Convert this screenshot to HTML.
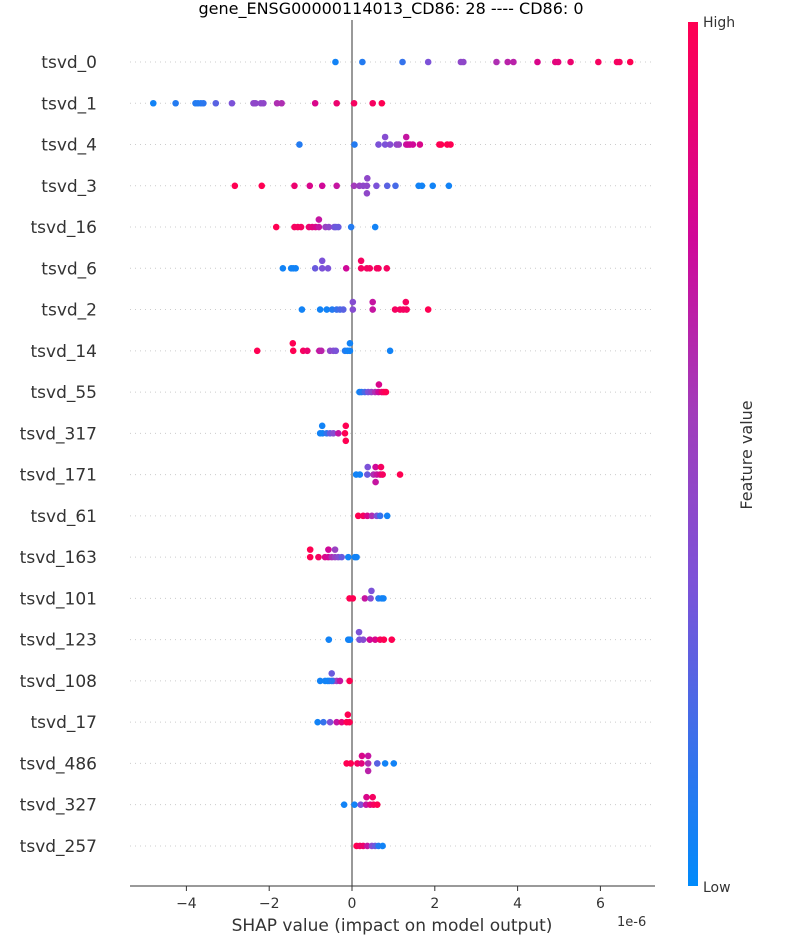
<!DOCTYPE html>
<html><head><meta charset="utf-8"><style>
body{margin:0;background:#fff;}
svg{display:block;font-family:"DejaVu Sans","Liberation Sans",sans-serif;}
</style></head><body>
<svg id="chart" width="800" height="950">
<defs><linearGradient id="cb" x1="0" y1="1" x2="0" y2="0">
<stop offset="0" stop-color="#008bfb"/><stop offset="0.35" stop-color="#7c52d8"/><stop offset="0.55" stop-color="#a23cba"/><stop offset="0.75" stop-color="#d00898"/><stop offset="1" stop-color="#ff0052"/></linearGradient></defs>
<text x="391" y="14" text-anchor="middle" font-size="16" fill="#000">gene_ENSG00000114013_CD86: 28 ---- CD86: 0</text>
<g id="grid"></g><g id="pts"></g><g id="axes"></g>
<rect x="688" y="22" width="10" height="864" fill="url(#cb)"/>
<text x="703" y="27" font-size="14" fill="#333">High</text>
<text x="703" y="892" font-size="14" fill="#333">Low</text>
<text transform="translate(752,455) rotate(-90)" text-anchor="middle" font-size="16" fill="#333">Feature value</text>
<text x="392" y="931" text-anchor="middle" font-size="17" fill="#333">SHAP value (impact on model output)</text>
<text x="617" y="926" font-size="13" fill="#333">1e-6</text>
</svg>
<script>
const features=["tsvd_0","tsvd_1","tsvd_4","tsvd_3","tsvd_16","tsvd_6","tsvd_2","tsvd_14","tsvd_55","tsvd_317","tsvd_171","tsvd_61","tsvd_163","tsvd_101","tsvd_123","tsvd_108","tsvd_17","tsvd_486","tsvd_327","tsvd_257"];
const xTicks=[-4,-2,0,2,4,6];
const shapValues=[
[-0.40,0.25,1.22,1.84,2.63,2.69,3.49,3.76,3.90,4.48,4.91,4.98,5.28,5.95,6.40,6.46,6.72],
[-4.80,-4.26,-3.78,-3.72,-3.65,-3.59,-3.29,-2.90,-2.38,-2.33,-2.20,-2.14,-1.81,-1.70,-0.89,-0.37,0.05,0.50,0.72],
[-1.27,0.06,0.64,0.80,0.92,1.08,1.13,1.31,1.35,1.40,1.47,1.64,2.11,2.15,2.30,2.38,0.80,1.31],
[-2.83,-2.18,-1.39,-1.02,-0.72,-0.37,0.05,0.18,0.27,0.36,0.37,0.59,0.85,1.05,1.61,1.69,1.95,2.34,0.36],
[-1.83,-1.39,-1.31,-1.23,-1.04,-0.96,-0.88,-0.80,-0.64,-0.56,-0.43,-0.39,-0.33,-0.02,0.56,-0.80],
[-1.67,-1.47,-1.42,-1.36,-0.89,-0.72,-0.58,-0.14,0.22,0.36,0.43,0.60,0.64,0.84,-0.72,0.22],
[-1.21,-0.77,-0.61,-0.48,-0.37,-0.29,-0.21,0.02,0.50,1.04,1.16,1.24,1.32,1.84,0.02,0.50,1.30],
[-2.29,-1.42,-1.18,-1.08,-0.79,-0.74,-0.53,-0.45,-0.39,-0.17,-0.11,-0.05,0.92,-1.43,-0.05],
[0.18,0.23,0.31,0.39,0.47,0.56,0.64,0.72,0.77,0.82,0.65],
[-0.77,-0.71,-0.61,-0.53,-0.45,-0.33,-0.17,-0.15,-0.72,-0.15],
[0.10,0.19,0.37,0.52,0.60,0.68,0.74,1.16,0.38,0.57,0.70,0.57],
[0.15,0.27,0.37,0.48,0.60,0.68,0.85],
[-1.01,-0.81,-0.65,-0.57,-0.49,-0.41,-0.33,-0.25,-0.09,0.07,0.11,-1.01,-0.57,-0.41],
[-0.06,0.02,0.31,0.45,0.64,0.72,0.76,0.47],
[-0.56,-0.09,-0.05,0.18,0.27,0.43,0.56,0.68,0.77,0.96,0.17],
[-0.77,-0.65,-0.55,-0.45,-0.37,-0.29,-0.06,-0.59,-0.49,-0.49],
[-0.83,-0.69,-0.53,-0.37,-0.25,-0.13,-0.06,-0.10],
[-0.13,-0.03,0.13,0.23,0.39,0.61,0.80,1.01,0.24,0.39,0.39],
[-0.19,0.06,0.21,0.34,0.44,0.52,0.61,0.35,0.50],
[0.11,0.19,0.27,0.37,0.48,0.56,0.64,0.74]
];
const featureValues=[
[0.05,0.1,0.15,0.35,0.45,0.45,0.6,0.65,0.65,0.8,0.85,0.85,0.9,0.95,0.95,0.95,1],
[0.05,0.1,0.1,0.1,0.1,0.12,0.25,0.35,0.45,0.45,0.45,0.45,0.6,0.6,0.8,0.9,0.95,0.95,1],
[0.1,0.1,0.35,0.35,0.4,0.45,0.5,0.7,0.75,0.75,0.75,0.8,1,1,1,1,0.4,0.7],
[1,1,0.9,0.8,0.75,0.7,0.55,0.5,0.45,0.45,0.45,0.35,0.25,0.2,0.05,0.05,0.05,0.05,0.45],
[1,0.95,0.95,0.95,0.9,0.85,0.8,0.7,0.5,0.45,0.35,0.3,0.3,0.1,0.05,0.7],
[0.05,0.05,0.05,0.05,0.3,0.35,0.35,0.75,0.95,0.95,0.95,0.95,0.95,0.95,0.35,0.95],
[0.05,0.05,0.05,0.1,0.15,0.2,0.25,0.4,0.7,0.95,0.95,0.95,0.95,1,0.4,0.7,0.95],
[1,1,0.95,0.9,0.7,0.65,0.45,0.4,0.35,0.1,0.05,0.05,0.05,1,0.05],
[0.05,0.1,0.2,0.35,0.45,0.6,0.75,0.9,0.95,1,0.8],
[0.05,0.05,0.15,0.3,0.4,0.7,1,1,0.05,1],
[0.05,0.05,0.3,0.6,0.7,0.8,0.95,1,0.35,0.75,0.95,0.7],
[1,0.95,0.8,0.6,0.35,0.15,0.05],
[1,0.95,0.8,0.75,0.6,0.5,0.4,0.3,0.05,0.05,0.05,1,0.75,0.5],
[1,1,0.7,0.4,0.1,0.05,0.05,0.35],
[0.05,0.05,0.05,0.35,0.4,0.75,0.8,0.95,1,1,0.35],
[0.05,0.05,0.1,0.35,0.5,0.7,1,0.05,0.1,0.3],
[0.05,0.15,0.35,0.7,0.85,1,1,1],
[1,1,0.95,0.85,0.6,0.25,0.05,0.05,0.8,0.7,0.65],
[0.05,0.05,0.35,0.7,0.85,0.95,1,0.8,0.95],
[1,0.95,0.9,0.7,0.4,0.3,0.1,0.05]
];
const NS="http://www.w3.org/2000/svg";
const X0=352,XS=41.4,Y0=62,YS=41.26,L=130,R=655,B=886;
const xScale=v=>X0+v*XS;
const yScale=i=>Y0+i*YS;
const stops=[[0,[0,139,251]],[0.35,[124,82,216]],[0.55,[162,60,186]],[0.75,[208,8,152]],[1,[255,0,82]]];
function color(t){for(let i=1;i<stops.length;i++){if(t<=stops[i][0]){const a=stops[i-1],b=stops[i],f=(t-a[0])/(b[0]-a[0]);return 'rgb('+a[1].map((c,k)=>Math.round(c+(b[1][k]-c)*f)).join(',')+')';}}return 'rgb(255,0,82)';}
function mk(tag,attrs,parent){const e=document.createElementNS(NS,tag);for(const k in attrs)e.setAttribute(k,attrs[k]);parent.appendChild(e);return e;}
const grid=document.getElementById('grid'),pts=document.getElementById('pts'),axes=document.getElementById('axes');
features.forEach((f,i)=>{
  const y=yScale(i);
  const gl=mk('line',{x1:L,x2:R,y1:y,y2:y,stroke:'#ccc','stroke-width':1,'stroke-dasharray':'1,4'},grid);
  
  
  const t=mk('text',{x:97,y:y+6,'text-anchor':'end','font-size':17,fill:'#333'},axes);
  t.textContent=f;
  
  
});
mk('line',{x1:X0,x2:X0,y1:20,y2:B,stroke:'#999','stroke-width':2},grid);
features.forEach((f,i)=>{
  const vals=shapValues[i],cols=featureValues[i];
  const placed=[];
  vals.forEach((v,j)=>{
    const x=xScale(v);
    const lanes=[0,-1,1,-2,2];
    let lane=0;
    for(const ln of lanes){if(!placed.some(p=>p.l===ln&&Math.abs(p.x-x)<1.5)){lane=ln;break;}}
    placed.push({x:x,l:lane});
    const c=mk('circle',{cx:x,cy:yScale(i)+lane*7.5,r:3.3,fill:color(cols[j])},pts);
    
    
  });
});
mk('line',{x1:L,x2:R,y1:B,y2:B,stroke:'#333','stroke-width':1},axes);
xTicks.forEach(v=>{
  const x=xScale(v);
  mk('line',{x1:x,x2:x,y1:B,y2:B+5,stroke:'#333'},axes);
  const t=mk('text',{x:x,y:B+22,'text-anchor':'middle','font-size':14,fill:'#333'},axes);
  t.textContent=v<0?'\u2212'+(-v):String(v);
  
  
});
</script>
</body></html>
